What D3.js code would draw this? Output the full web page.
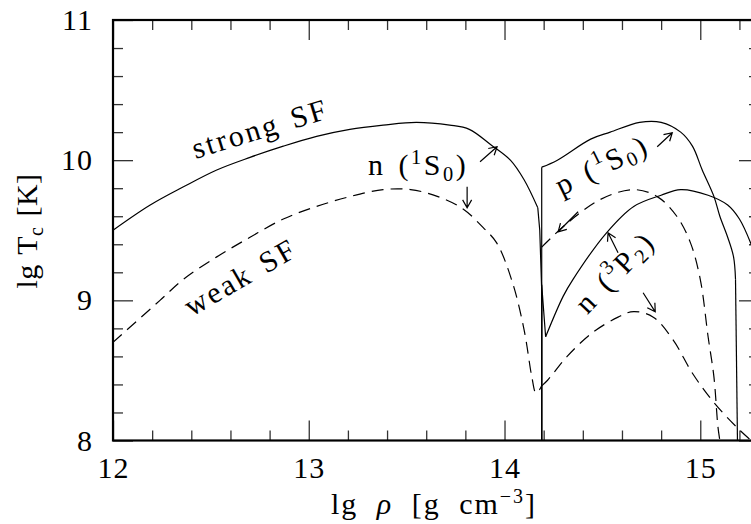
<!DOCTYPE html>
<html>
<head>
<meta charset="utf-8">
<script src="https://cdn.jsdelivr.net/npm/d3@7"></script>
<style>
  html, body { margin: 0; padding: 0; background: #fff; }
  svg { display: block; }
  text { font-family: "Liberation Serif", "Times New Roman", "DejaVu Serif", serif; fill: #000; }
</style>
</head>
<body>
<svg id="chart" width="751" height="524"></svg>
<script>
// ---------- data (lg rho [g cm^-3], lg Tc [K]) ----------
const xMajorTicks = [12, 13, 14, 15];
const yMajorTicks = [8, 9, 10, 11];

// neutron 1S0, strong superfluidity (solid)
const n1S0Strong = [[12.00,9.50],[12.19,9.68],[12.36,9.81],[12.53,9.93],[12.70,10.02],[12.87,10.10],
  [13.04,10.17],[13.21,10.22],[13.38,10.25],[13.55,10.27],[13.72,10.25],[13.82,10.22],[13.93,10.11],
  [14.03,10.00],[14.10,9.86],[14.17,9.66]];
const n1S0StrongDrop = [[14.17,9.66],[14.18,9.50],[14.19,9.07],[14.19,8.00]];

// neutron 1S0, weak superfluidity (dashed)
const n1S0Weak = [[12.00,8.70],[12.24,9.00],[12.36,9.15],[12.53,9.31],[12.70,9.45],[12.87,9.58],
  [13.04,9.67],[13.21,9.74],[13.38,9.79],[13.52,9.79],[13.66,9.74],[13.79,9.65],[13.89,9.52],
  [13.96,9.41],[14.04,9.13],[14.10,8.79],[14.14,8.45],[14.16,8.34],[14.175,8.355],[14.19,8.39]];

// proton 1S0, strong (solid)
const p1S0StrongRise = [[14.19,8.00],[14.19,9.95]];
const p1S0Strong = [[14.19,9.95],[14.27,10.00],[14.44,10.15],[14.54,10.20],[14.69,10.27],[14.80,10.27],
  [14.90,10.20],[14.96,10.10],[15.01,9.93],[15.07,9.74],[15.10,9.60],[15.14,9.45],[15.17,9.31],[15.18,9.15]];
const p1S0StrongDrop = [[15.18,9.15],[15.19,8.00]];

// proton 1S0, weak (dashed)
const p1S0Weak = [[14.19,9.38],[14.32,9.55],[14.49,9.72],[14.66,9.79],[14.78,9.74],[14.88,9.60],
  [14.95,9.41],[15.00,9.15],[15.04,8.74],[15.07,8.45],[15.09,8.10],[15.10,8.00]];

// neutron 3P2, strong (solid)
const n3P2StrongHead = [[14.19,8.00],[14.19,9.11],[14.21,8.74]];
const n3P2Strong = [[14.21,8.74],[14.30,9.03],[14.35,9.15],[14.52,9.48],[14.66,9.67],[14.80,9.75],
  [14.90,9.79],[15.04,9.75],[15.14,9.68],[15.20,9.58],[15.26,9.40]];

// neutron 3P2, weak (dashed)
const n3P2Weak = [[14.19,8.39],[14.22,8.43],[14.32,8.60],[14.45,8.77],[14.58,8.88],[14.66,8.92],
  [14.76,8.88],[14.86,8.72],[14.96,8.48],[15.07,8.27],[15.19,8.09],[15.26,8.00]];

// annotation arrows [x1,y1,x2,y2] (head at second point)
const arrows = [
  [13.875,9.989,13.962,10.096],
  [13.809,9.811,13.809,9.661],
  [14.780,10.096,14.857,10.196],
  [14.376,9.632,14.274,9.489],
  [14.580,9.339,14.529,9.482],
  [14.708,9.054,14.770,8.918]
];

// annotation texts
const labels = [
  {x:12.756, y:10.204, rot:-17, anchor:"middle", parts:[{t:"strong SF"}]},
  {x:12.659, y:9.146,  rot:-30, anchor:"middle", parts:[{t:"weak SF"}]},
  {x:13.303, y:9.896,  rot:0,   anchor:"start",  parts:[{t:"n ("},{t:"1",sup:true},{t:"S"},{t:"0",sub:true},{t:")"}]},
  {x:14.504, y:9.946,  rot:-26, anchor:"middle", parts:[{t:"p ("},{t:"1",sup:true},{t:"S"},{t:"0",sub:true},{t:")"}]},
  {x:14.575, y:9.185,  rot:-46, anchor:"middle", parts:[{t:"n ("},{t:"3",sup:true},{t:"P"},{t:"2",sub:true},{t:")"}]}
];

// ---------- layout ----------
const svg = d3.select("#chart");
const L = 113, R = 759, T = 20, B = 440.5;
const x = d3.scaleLinear().domain([12, 15.3]).range([L, R]);
const y = d3.scaleLinear().domain([8, 11]).range([B, T]);
const FS = 30;
const FONT = '"Liberation Serif", "Times New Roman", "DejaVu Serif", serif';

const xMinor = d3.range(12, 15.31, 0.2).map(v => +v.toFixed(1)).filter(v => !xMajorTicks.includes(v));
const yMinor = d3.range(8, 11.01, 0.2).map(v => +v.toFixed(1)).filter(v => !yMajorTicks.includes(v));

function styleAxis(g) {
  g.attr("font-family", null);
  g.select(".domain").remove();
  g.selectAll(".tick line").attr("stroke", "#333").attr("stroke-width", 1.3);
  g.selectAll("text").style("font-family", FONT)
    .style("font-size", FS + "px").style("letter-spacing", "1px").attr("fill", "#000");
}

// bottom
svg.append("g").attr("transform", `translate(0,${B})`)
  .call(d3.axisBottom(x).tickValues(xMajorTicks).tickSizeInner(-20).tickSizeOuter(0).tickPadding(16).tickFormat(d3.format("d")))
  .call(styleAxis);
svg.append("g").attr("transform", `translate(0,${B})`)
  .call(d3.axisBottom(x).tickValues(xMinor).tickSizeInner(-10).tickSizeOuter(0).tickFormat(""))
  .call(styleAxis);
// top
svg.append("g").attr("transform", `translate(0,${T})`)
  .call(d3.axisTop(x).tickValues(xMajorTicks).tickSizeInner(-20).tickSizeOuter(0).tickFormat(""))
  .call(styleAxis);
svg.append("g").attr("transform", `translate(0,${T})`)
  .call(d3.axisTop(x).tickValues(xMinor).tickSizeInner(-10).tickSizeOuter(0).tickFormat(""))
  .call(styleAxis);
// left
svg.append("g").attr("transform", `translate(${L},0)`)
  .call(d3.axisLeft(y).tickValues(yMajorTicks).tickSizeInner(-20).tickSizeOuter(0).tickPadding(20).tickFormat(d3.format("d")))
  .call(styleAxis);
svg.append("g").attr("transform", `translate(${L},0)`)
  .call(d3.axisLeft(y).tickValues(yMinor).tickSizeInner(-10).tickSizeOuter(0).tickFormat(""))
  .call(styleAxis);
// right
svg.append("g").attr("transform", `translate(${R},0)`)
  .call(d3.axisRight(y).tickValues(yMajorTicks).tickSizeInner(-20).tickSizeOuter(0).tickFormat(""))
  .call(styleAxis);
svg.append("g").attr("transform", `translate(${R},0)`)
  .call(d3.axisRight(y).tickValues(yMinor).tickSizeInner(-10).tickSizeOuter(0).tickFormat(""))
  .call(styleAxis);

// frame
svg.append("rect").attr("x", L).attr("y", T).attr("width", R - L).attr("height", B - T)
  .attr("fill", "none").attr("stroke", "#000").attr("stroke-width", 2.2);

// clip
svg.append("clipPath").attr("id", "plotclip").append("rect")
  .attr("x", L).attr("y", T).attr("width", R - L).attr("height", B - T);
const plot = svg.append("g").attr("clip-path", "url(#plotclip)");

const smooth = d3.line().x(d => x(d[0])).y(d => y(d[1])).curve(d3.curveCatmullRom.alpha(0.5));
const straight = d3.line().x(d => x(d[0])).y(d => y(d[1]));

function draw(pts, gen, dashed) {
  plot.append("path").attr("d", gen(pts)).attr("fill", "none")
    .attr("stroke", "#000").attr("stroke-width", 1.2)
    .attr("stroke-dasharray", dashed ? "12,7" : null);
}
draw(n1S0Strong, smooth, false);
draw(n1S0StrongDrop, straight, false);
draw(n1S0Weak, smooth, true);
draw(p1S0StrongRise, straight, false);
draw(p1S0Strong, smooth, false);
draw(p1S0StrongDrop, straight, false);
draw(p1S0Weak, smooth, true);
draw(n3P2StrongHead, straight, false);
draw(n3P2Strong, smooth, false);
draw(n3P2Weak, smooth, true);

// arrows
arrows.forEach(a => {
  const x1 = x(a[0]), y1 = y(a[1]), x2 = x(a[2]), y2 = y(a[3]);
  const ang = Math.atan2(y2 - y1, x2 - x1);
  const hl = 9, ha = Math.PI / 6;
  const p = d3.path();
  p.moveTo(x1, y1); p.lineTo(x2, y2);
  p.moveTo(x2 - hl * Math.cos(ang - ha), y2 - hl * Math.sin(ang - ha));
  p.lineTo(x2, y2);
  p.lineTo(x2 - hl * Math.cos(ang + ha), y2 - hl * Math.sin(ang + ha));
  svg.append("path").attr("d", p.toString()).attr("fill", "none")
    .attr("stroke", "#000").attr("stroke-width", 1.2);
});

// rich text helper
function rich(textSel, parts, fs) {
  let shift = 0;
  parts.forEach(p => {
    const target = p.sup ? -0.36 * fs : (p.sub ? 0.22 * fs : 0);
    const small = p.sup || p.sub;
    textSel.append("tspan").attr("dy", target - shift)
      .style("font-size", (small ? 0.68 * fs : fs) + "px").text(p.t);
    shift = target;
  });
}

labels.forEach(l => {
  const t = svg.append("text")
    .attr("transform", `translate(${x(l.x)},${y(l.y)}) rotate(${l.rot})`)
    .attr("text-anchor", l.anchor).attr("dominant-baseline", l.anchor === "start" ? "auto" : "middle")
    .style("font-family", FONT)
    .style("font-size", FS + "px").style("letter-spacing", "2.5px").style("word-spacing", "3px");
  rich(t, l.parts, FS);
});

// axis titles
const xt = svg.append("text").attr("x", 434).attr("y", 514).attr("text-anchor", "middle")
  .style("font-family", FONT)
  .style("font-size", FS + "px").style("letter-spacing", "2px").style("word-spacing", "9px");
xt.append("tspan").text("lg ");
xt.append("tspan").style("font-style", "italic").text("ρ");
xt.append("tspan").text(" [g cm");
xt.append("tspan").attr("dy", -11).style("font-size", "20px").text("−3");
xt.append("tspan").attr("dy", 11).text("]");

const yt = svg.append("text").attr("transform", "translate(37,231) rotate(-90)").attr("text-anchor", "middle")
  .style("font-family", FONT)
  .style("font-size", FS + "px").style("letter-spacing", "0.5px").style("word-spacing", "2px");
yt.append("tspan").text("lg T");
yt.append("tspan").attr("dy", 6).style("font-size", "20px").text("c");
yt.append("tspan").attr("dy", -6).text(" [K]");
</script>
</body>
</html>
